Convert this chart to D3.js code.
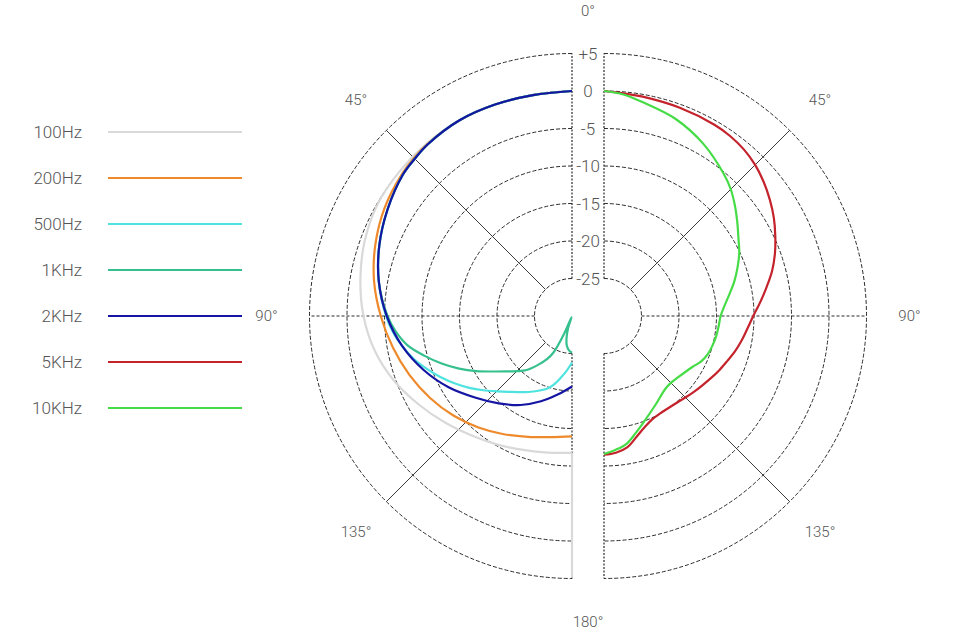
<!DOCTYPE html>
<html>
<head>
<meta charset="utf-8">
<script src="https://cdn.jsdelivr.net/npm/d3@7"></script>
<style>
  body { margin: 0; background: #fff; }
  svg { display: block; font-family: Roboto, "Noto Sans", sans-serif; }
</style>
</head>
<body>
<svg id="chart" width="968" height="639"></svg>
<script>
// ---------------- DATA ----------------
const seriesNames  = ["100Hz", "200Hz", "500Hz", "1KHz", "2KHz", "5KHz", "10KHz"];
const seriesColors = ["#d9d9d9", "#ee8a2c", "#4fe3df", "#36c08e", "#1515a3", "#c4232c", "#46dc46"];
const seriesSide   = ["left", "left", "left", "left", "left", "right", "right"];

const dbTicks      = [5, 0, -5, -10, -15, -20, -25];
const dbTickLabels = ["+5", "0", "-5", "-10", "-15", "-20", "-25"];
const angleTicks   = [0, 45, 90, 135, 180];
const angleTickLabels = ["0°", "45°", "90°", "135°", "180°"];

// [angle in degrees from front, level in dB]
const hz100 = [[0,0],[10,-0.1],[20,0],[30,0.1],[40,0.05],[50,0],[60,-0.1],[70,-0.6],[80,-1.35],[90,-2.2],
  [100,-3.3],[110,-4.75],[120,-6.4],[130,-7.9],[140,-9.2],[150,-10.2],[160,-11.0],[170,-11.5],[180,-11.75],[180,4.8]];
const hz200 = [[0,0],[10,-0.1],[20,0],[30,0.1],[40,-0.05],[45,-0.2],[50,-0.45],[60,-1.15],[70,-2.1],[80,-3.2],[90,-4.5],
  [100,-5.75],[110,-6.95],[120,-8.15],[130,-9.35],[140,-10.6],[150,-11.8],[160,-12.85],[170,-13.6],[180,-13.95]];
const hz500 = [[0,0],[10,-0.1],[20,0],[30,0.1],[40,-0.1],[45,-0.35],[50,-0.6],[60,-1.6],[70,-2.65],[80,-3.85],[90,-5.2],
  [95,-6.0],[100,-7.0],[105,-8.1],[110,-9.4],[115,-10.7],[120,-12.0],[125,-13.3],[130,-14.6],[135,-15.8],[140,-16.8],
  [150,-18.3],[160,-19.6],[165,-20.5],[170,-21.7],[175,-22.8],[180,-23.8]];
const khz1 = [[0,0],[10,-0.1],[20,0],[30,0.1],[40,-0.1],[45,-0.35],[50,-0.6],[60,-1.6],[70,-2.65],[80,-3.85],[90,-5.4],
  [95,-6.4],[100,-7.7],[105,-9.6],[110,-11.5],[115,-13.4],[120,-15.3],[125,-17.1],[130,-18.5],[135,-19.6],[140,-20.6],
  [145,-22.0],[150,-23.4],[153,-24.5],[156,-27.5],[158,-29.8],[162,-28.3],[166,-27.0],[170,-26.0],[175,-25.4],[180,-25.1]];
const khz2 = [[0,0],[10,-0.1],[20,0],[30,0.1],[40,-0.1],[45,-0.35],[50,-0.6],[60,-1.6],[70,-2.65],[80,-3.85],[90,-5.3],
  [100,-7.0],[110,-8.95],[120,-11.0],[130,-13.1],[140,-14.8],[150,-16.3],[160,-17.9],[170,-19.4],[180,-20.6]];
const khz5 = [[0,0],[5,-0.2],[10,-0.3],[20,-0.45],[30,-0.55],[35,-0.7],[40,-1.0],[45,-1.5],[50,-2.2],[55,-3.0],[60,-3.85],
  [65,-4.8],[70,-5.75],[75,-6.8],[80,-8.0],[85,-9.1],[90,-10.1],[95,-10.8],[100,-11.35],[105,-11.9],[110,-12.5],
  [115,-13.0],[120,-13.5],[130,-14.3],[140,-14.9],[150,-15.0],[155,-14.8],[160,-14.2],[165,-13.3],[170,-12.2],
  [175,-11.7],[180,-11.5]];
const khz10 = [[0,0],[5,-0.35],[10,-1.0],[20,-2.05],[30,-3.5],[40,-5.2],[45,-6.1],[50,-7.2],[55,-8.3],[60,-9.3],[65,-10.1],
  [70,-11.05],[75,-12.0],[80,-13.0],[85,-13.85],[90,-14.45],[95,-14.65],[100,-14.8],[105,-15.0],[110,-15.25],[115,-15.7],
  [120,-16.4],[130,-17.2],[135,-17.4],[140,-17.3],[150,-16.3],[160,-14.8],[165,-13.8],[170,-12.7],[175,-12.1],[180,-11.6]];
const seriesValues = [hz100, hz200, hz500, khz1, khz2, khz5, khz10];

// ---------------- LAYOUT ----------------
const svg = d3.select("#chart");
const midX = 588, cy = 316, halfGap = 16;
const centers = { left: midX - halfGap, right: midX + halfGap };

const r = d3.scaleLinear().domain([-30, 5]).range([0, 262.5]);
const angRight = d3.scaleLinear().domain([0, 180]).range([0, Math.PI]);
const angLeft  = d3.scaleLinear().domain([0, 180]).range([0, -Math.PI]);
const ang = side => side === "left" ? angLeft : angRight;

const gridColor = "#2b2b2b";
const textColor = "#555";

["left", "right"].forEach(side => {
  const g = svg.append("g").attr("transform", `translate(${centers[side]},${cy})`);
  const a = ang(side);
  dbTicks.forEach(db => {
    const p = d3.path();
    p.moveTo(0, -r(db));
    p.arc(0, 0, r(db), -Math.PI / 2, Math.PI / 2, side === "left");
    g.append("path").attr("d", p.toString())
      .attr("fill", "none").attr("stroke", gridColor).attr("stroke-width", 1)
      .attr("stroke-dasharray", "4,2");
  });
  const rIn = r(-25), rOut = r(5);
  const pt = (deg, rad) => [rad * Math.sin(a(deg)), -rad * Math.cos(a(deg))];
  [0, 180].forEach(deg => {
    const p0 = pt(deg, rIn), p1 = pt(deg, rOut);
    g.append("line").attr("x1", p0[0]).attr("y1", p0[1]).attr("x2", p1[0]).attr("y2", p1[1])
      .attr("stroke", gridColor).attr("stroke-width", 1.2).attr("stroke-dasharray", "2,1.5");
  });
  {
    const p0 = pt(90, rIn), p1 = pt(90, rOut);
    g.append("line").attr("x1", p0[0]).attr("y1", p0[1]).attr("x2", p1[0]).attr("y2", p1[1])
      .attr("stroke", gridColor).attr("stroke-width", 1).attr("stroke-dasharray", "3,2");
  }
  [45, 135].forEach(deg => {
    const p0 = pt(deg, rIn), p1 = pt(deg, rOut);
    g.append("line").attr("x1", p0[0]).attr("y1", p0[1]).attr("x2", p1[0]).attr("y2", p1[1])
      .attr("stroke", "#3a3a3a").attr("stroke-width", 1);
  });
  angleTicks.forEach((deg, i) => {
    if (deg === 0 || deg === 180) return;
    const p = pt(deg, rOut + 43);
    g.append("text").attr("x", p[0]).attr("y", p[1])
      .attr("text-anchor", "middle").attr("dominant-baseline", "central")
      .attr("font-size", 15).attr("font-weight", 300).attr("fill", textColor)
      .text(angleTickLabels[i]);
  });
});

[0, 180].forEach(deg => {
  const i = angleTicks.indexOf(deg);
  const rad = r(5) + 43;
  svg.append("text").attr("x", midX).attr("y", cy - rad * Math.cos(angRight(deg)))
    .attr("text-anchor", "middle").attr("dominant-baseline", "central")
    .attr("font-size", 15).attr("font-weight", 300).attr("fill", textColor)
    .text(angleTickLabels[i]);
});

dbTicks.forEach((db, i) => {
  svg.append("text").attr("x", midX).attr("y", cy - r(db))
    .attr("text-anchor", "middle").attr("dominant-baseline", "central")
    .attr("font-size", 17).attr("font-weight", 300).attr("fill", textColor)
    .text(dbTickLabels[i]);
});

// curves: smooth part up to the first 180° point, straight radial tail after it
seriesValues.forEach((vals, i) => {
  const side = seriesSide[i];
  const a = ang(side);
  const end = vals.findIndex(d => d[0] === 180);
  const smooth = vals.slice(0, end + 1);
  const tail = vals.slice(end);
  const mk = curve => d3.lineRadial().angle(d => a(d[0])).radius(d => r(d[1])).curve(curve);
  const g = svg.append("g").attr("transform", `translate(${centers[side]},${cy})`);
  g.append("path").attr("d", mk(d3.curveCatmullRom.alpha(0.5))(smooth))
    .attr("fill", "none").attr("stroke", seriesColors[i]).attr("stroke-width", 2.2)
    .attr("stroke-linejoin", "round");
  if (tail.length > 1) {
    g.append("path").attr("d", mk(d3.curveLinear)(tail))
      .attr("fill", "none").attr("stroke", seriesColors[i]).attr("stroke-width", 2.2);
  }
});

// legend
const legend = svg.append("g");
seriesNames.forEach((name, i) => {
  const y = 132 + i * 46;
  legend.append("text").attr("x", 82).attr("y", y)
    .attr("text-anchor", "end").attr("dominant-baseline", "central")
    .attr("font-size", 17).attr("font-weight", 300).attr("fill", textColor)
    .text(name);
  legend.append("line").attr("x1", 108).attr("x2", 242).attr("y1", y).attr("y2", y)
    .attr("stroke", seriesColors[i]).attr("stroke-width", 2.2);
});
</script>
</body>
</html>
